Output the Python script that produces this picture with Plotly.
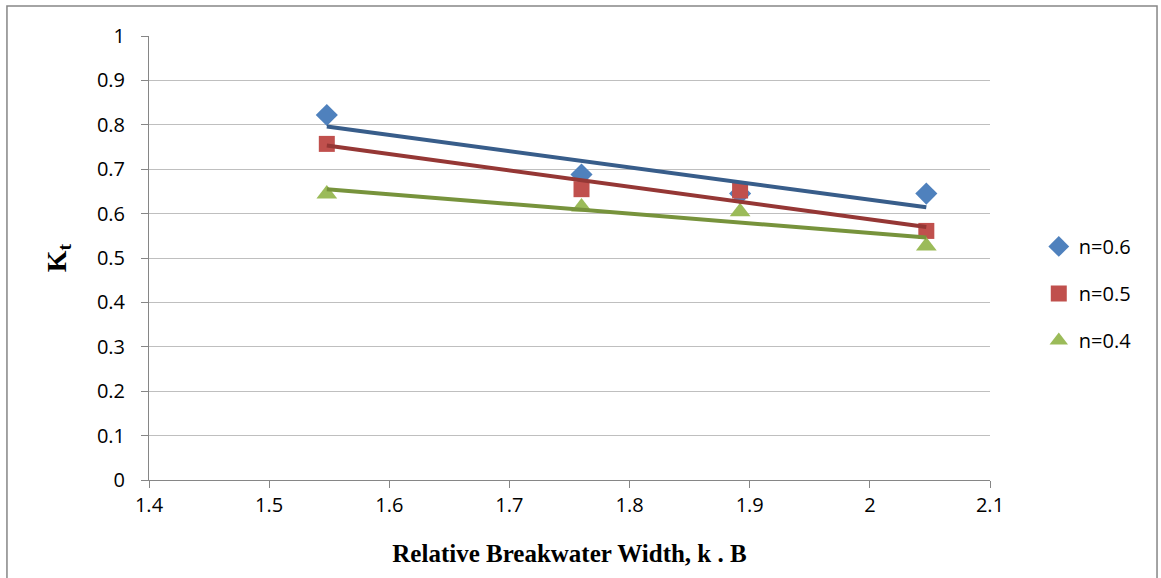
import numpy as np
import plotly.graph_objects as go

# Relative breakwater width (k.B) and transmission coefficient Kt per porosity
width_kb = [1.548, 1.760, 1.892, 2.047]
kt_n06 = [0.822, 0.688, 0.645, 0.645]
kt_n05 = [0.757, 0.655, 0.652, 0.561]
kt_n04 = [0.644, 0.615, 0.604, 0.527]

series = [
    ("n=0.6", kt_n06, "diamond", "#4F81BD", "#385D8A", 17),
    ("n=0.5", kt_n05, "square", "#C0504D", "#953735", 16),
    ("n=0.4", kt_n04, "triangle-up", "#9BBB59", "#77933C", 18),
]

fig = go.Figure()
x = np.array(width_kb)
for name, kt, sym, mcol, lcol, msize in series:
    fig.add_trace(go.Scatter(
        x=width_kb, y=kt, mode="markers", name=name,
        legendgroup=name,
        marker=dict(symbol=sym, color=mcol, size=msize, line=dict(width=0)),
    ))
for name, kt, sym, mcol, lcol, msize in series:
    # linear trend line fitted through each series
    slope, icpt = np.polyfit(x, np.array(kt), 1)
    xs = [x.min(), x.max()]
    fig.add_trace(go.Scatter(
        x=xs, y=[slope * v + icpt for v in xs], mode="lines",
        line=dict(color=lcol, width=4), showlegend=False, hoverinfo="skip",
    ))

fig.update_layout(
    width=1161, height=578,
    margin=dict(l=149, r=171, t=36, b=98),
    paper_bgcolor="white", plot_bgcolor="white",
    font=dict(family="Open Sans", size=20, color="#000000"),
    showlegend=True,
    legend=dict(
        x=1.058, y=0.57, xanchor="left", yanchor="top",
        font=dict(family="Open Sans", size=20),
        tracegroupgap=18, itemwidth=30,
        bgcolor="rgba(0,0,0,0)",
    ),
    xaxis=dict(
        range=[1.4, 2.1], dtick=0.1, tick0=1.4,
        showgrid=False, zeroline=False, automargin=False,
        showline=True, linecolor="#868686", linewidth=1,
        ticks="outside", ticklen=7, tickcolor="#868686",
        tickfont=dict(size=20),
        title=dict(text="<b>Relative Breakwater Width, k . B</b>",
                   font=dict(family="Liberation Serif", size=25), standoff=27),
    ),
    yaxis=dict(
        range=[0, 1], dtick=0.1, tick0=0,
        showgrid=True, gridcolor="#BFBFBF", gridwidth=1.3,
        zeroline=False, automargin=False,
        showline=True, linecolor="#868686", linewidth=1,
        ticks="outside", ticklen=7, tickcolor="#868686",
        ticklabelstandoff=12,
        tickfont=dict(size=20),
        title=dict(text="<b>K<sub>t</sub></b>",
                   font=dict(family="Liberation Serif", size=28), standoff=22),
    ),
    shapes=[dict(
        type="rect", xref="paper", yref="paper",
        x0=-0.1689, x1=1.1986, y0=-0.3, y1=1.0676,
        line=dict(color="#868686", width=1.5), fillcolor="rgba(0,0,0,0)",
        layer="below",
    )],
)

fig.write_html("out.html")
